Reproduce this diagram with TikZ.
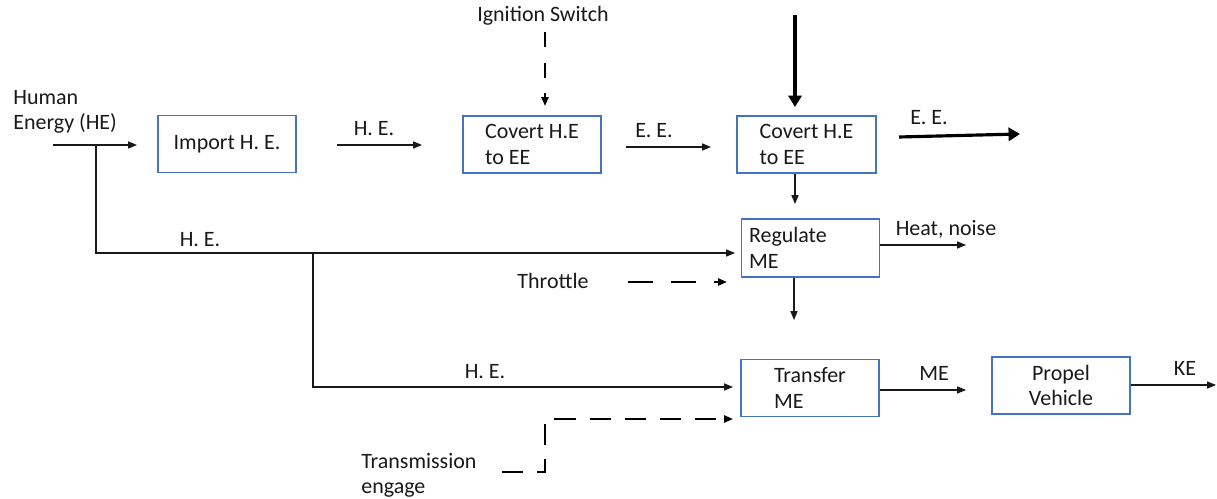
\documentclass[tikz,border=0pt]{standalone}
\usepackage{fontspec}
\setmainfont{Carlito}
\usetikzlibrary{arrows.meta,positioning,calc}
\definecolor{boxBlue}{RGB}{68,114,196}
\definecolor{inkGray}{RGB}{25,25,25}
\newcommand{\lbfont}{\fontsize{12.5}{14.5}\selectfont}

\begin{document}
\begin{tikzpicture}[x=0.02cm, y=-0.02cm,
    fn/.style={rectangle, draw=boxBlue, line width=0.6pt, minimum width=2.76cm,
               minimum height=1.14cm, inner sep=0pt, align=left, font=\lbfont, text=inkGray},
    lbl/.style={inner sep=0pt, align=left, font=\lbfont, text=inkGray},
    flow/.style={-{Triangle[length=5pt,width=4pt]}, line width=0.6pt, inkGray},
    heavy/.style={-{Triangle[length=6.5pt,width=7.5pt]}, line width=1.8pt, black},
    ctrl/.style={-{Triangle[length=5pt,width=4pt]}, line width=1.1pt, black}
  ]
  \useasboundingbox (0,0) rectangle (1217,499);

  \node[fn] (imp) at (227,144) {Import H. E.};
  \node[fn] (cvA) at (532,144.5) {Covert H.E\\to EE};
  \node[fn, minimum width=2.78cm] (cvB) at (806.5,144.5) {Covert H.E\\to EE};
  \node[fn, text width=2.46cm, inner xsep=0.14cm, minimum height=1.16cm] (reg) at (810.5,248) {Regulate\\ME};
  \node[fn] (trf) at (810,388) {Transfer\\ME};
  \node[fn, align=center] (prp) at (1061,385.5) {Propel\\Vehicle};

  \node[lbl, anchor=west] (he) at (13,112) {Human\\Energy (HE)};
  \node[lbl] (ign) at (543,16) {Ignition Switch};
  \node[lbl] (heA) at (374,129) {H. E.};
  \node[lbl] (eeA) at (654,131) {E. E.};
  \node[lbl] (eeB) at (929,118) {E. E.};
  \node[lbl] (heB) at (200,240) {H. E.};
  \node[lbl] (heat) at (946,229) {Heat, noise};
  \node[lbl] (thr) at (553,281) {Throttle};
  \node[lbl] (heC) at (485,372) {H. E.};
  \node[lbl, anchor=west] (trn) at (361,475.5) {Transmission\\engage};
  \node[lbl] (me) at (934,373) {ME};
  \node[lbl] (ke) at (1185,368) {KE};

  \coordinate (heS) at (53,145);   \coordinate (heE) at (137,145);
  \coordinate (impS) at (337,145); \coordinate (impE) at (422,145);
  \coordinate (cvS) at (626,147);  \coordinate (cvE) at (711,147);
  \coordinate (regT) at (795,204); \coordinate (regB) at (794,320);
  \coordinate (heatE) at (966,245);
  \coordinate (meE) at (966,390);
  \coordinate (keE) at (1216,385);
  \coordinate (teeA) at (96,145);  \coordinate (regIn) at (735,253);
  \coordinate (teeB) at (313,253); \coordinate (trfIn) at (733,387);
  \coordinate (ignS) at (545,32);  \coordinate (ignE) at (545,106);
  \coordinate (thrS) at (628,282); \coordinate (thrE) at (727,282);
  \coordinate (trnS) at (502,472); \coordinate (trnK) at (545,419);
  \coordinate (trfCt) at (733,419);
  \coordinate (srcS) at (795,15);  \coordinate (srcE) at (795,107);
  \coordinate (eeS) at (899,137);  \coordinate (eeE) at (1020,134);

  \foreach \a/\b in {heS/heE, impS/impE, cvS/cvE}
    \draw[flow] (\a)--(\b);
  \draw[flow] (cvB.south -| regT) -- (regT);
  \draw[flow] (reg.south -| regB) -- (regB);
  \draw[flow] (reg.east |- heatE) -- (heatE);
  \draw[flow] (trf.east |- meE) -- (meE);
  \draw[flow] (prp.east |- keE) -- (keE);
  \draw[flow] (teeA) |- (regIn);
  \draw[flow] (teeB) |- (trfIn);

  \draw[ctrl, dash pattern=on 8.5pt off 9pt] (ignS) -- (ignE);
  \draw[ctrl, dash pattern=on 14pt off 10.5pt] (thrS) -- (thrE);
  \draw[ctrl, dash pattern=on 12pt off 8pt] (trnS) -| (trnK) -- (trfCt);

  \draw[heavy] (srcS) -- (srcE);
  \draw[heavy] (eeS) -- (eeE);
\end{tikzpicture}
\end{document}
